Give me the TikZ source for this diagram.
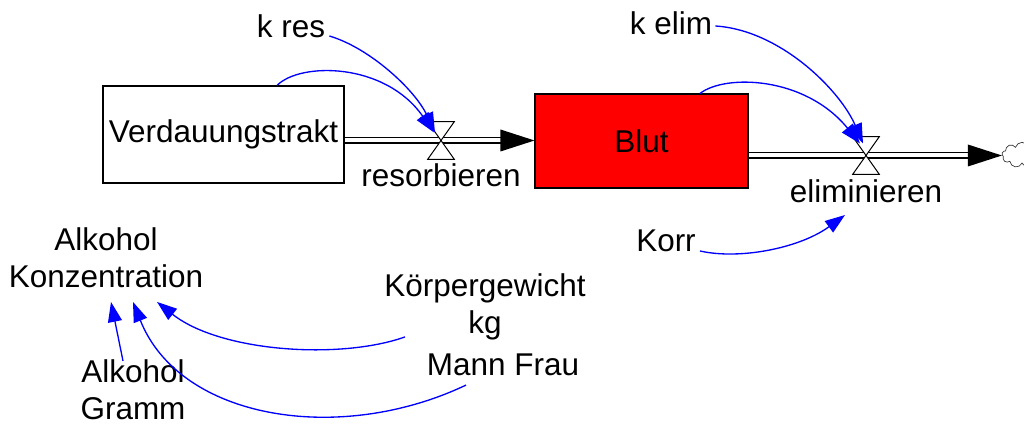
\documentclass[tikz,border=0pt]{standalone}
\usepackage{fontspec}
\setmainfont{Liberation Sans}
\usetikzlibrary{arrows.meta,calc,shapes.symbols}
\begin{document}
\begin{tikzpicture}[x=0.75pt,y=-0.75pt,
  lbl/.style={font=\fontsize{23.6}{27.75}\selectfont, inner sep=0pt, align=center},
  stockbox/.style={draw=black, line width=0.8pt, inner sep=0pt, font=\fontsize{23.6}{27.75}\selectfont},
  valve/.style={minimum width=19.5pt, minimum height=27.75pt, inner sep=0pt},
  valveshape/.style={draw=black, fill=white, line width=0.75pt},
  pipe/.style={draw=black, double=white, double distance=3pt, line width=1.3pt},
  flowhead/.style={fill=black},
  infl/.style={draw=blue, line width=1pt, -{Triangle[length=15pt,width=10.5pt]}},
]
\useasboundingbox (0,0) rectangle (1024,427);

% stocks
\node[stockbox, minimum width=180.75pt, minimum height=72.75pt] (stock1) at (223.5,134.5) {Verdauungstrakt};
\node[stockbox, fill=red, minimum width=159.75pt, minimum height=70.5pt] (blut) at (641.5,141) {Blut};
\node[cloud, cloud puffs=9, draw=black!80, line width=0.5pt, minimum width=30pt, minimum height=19pt, inner sep=0pt] (sink) at (1022,155) {};

% valves (placeholders)
\node[valve] (v1) at (441,140.5) {};
\node[valve] (v2) at (866,155.5) {};

% pipes
\draw[pipe] (stock1.east |- v1) -- ($(blut.west |- v1)+(-33,0)$);
\fill[flowhead] (blut.west |- v1) -- ++(-34,-11) -- ++(0,22) -- cycle;
\draw[pipe] (blut.east |- v2) -- ($(sink.west |- v2)+(-33,0)$);
\fill[flowhead] (sink.west |- v2) -- ++(-34,-11) -- ++(0,22) -- cycle;

% valve shapes
\draw[valveshape] (v1.north west) -- (v1.north east) -- (v1.south west) -- (v1.south east) -- cycle;
\draw[valveshape] (v2.north west) -- (v2.north east) -- (v2.south west) -- (v2.south east) -- cycle;

% labels (base anchor = baseline of the last line)
\node[lbl, anchor=base] (v1lbl) at (441,187) {resorbieren};
\node[lbl, anchor=base] (v2lbl) at (866,203) {eliminieren};
\node[lbl, anchor=base] (kres) at (291,38) {k res};
\node[lbl, anchor=base] (kelim) at (671,35) {k elim};
\node[lbl, anchor=base] (korr) at (666,252) {Korr};
\node[lbl, anchor=base] (konz) at (106,288) {Alkohol\\Konzentration};
\node[lbl, anchor=base] (gramm) at (133,419) {Alkohol\\Gramm};
\node[lbl, anchor=base] (koerper) at (485,334) {Körpergewicht\\kg};
\node[lbl, anchor=base] (mann) at (503,375) {Mann Frau};

% influences
\draw[infl] ($(kres.base east)+(4,-2)$) .. controls (370,48) and (415,90) .. ($(v1.center)+(-6,-8)$);
\draw[infl] ($(stock1.north)+(53.5,0)$) .. controls (300,62) and (385,62) .. ($(v1.center)+(-7,-8)$);
\draw[infl] ($(kelim.base east)+(3,-9)$) .. controls (780,30) and (840,90) .. ($(v2.center)+(-3,-12)$);
\draw[infl] ($(blut.north)+(58.5,0)$) .. controls (725,74) and (805,76) .. ($(v2.center)+(-6,-12)$);
\draw[infl] ($(korr.base east)+(4,-1)$) .. controls (740,260) and (800,248) .. ($(v2lbl.base)+(-21,12)$);
\draw[infl] ($(gramm.north)+(-10,2)$) -- ($(konz.north)+(5,74)$);
\draw[infl] ($(koerper.north)+(-80,63)$) .. controls (340,360) and (220,352) .. ($(konz.north)+(51,74)$);
\draw[infl] ($(mann.north)+(-37,32)$) .. controls (340,445) and (180,420) .. ($(konz.north)+(27,74)$);
\end{tikzpicture}
\end{document}
